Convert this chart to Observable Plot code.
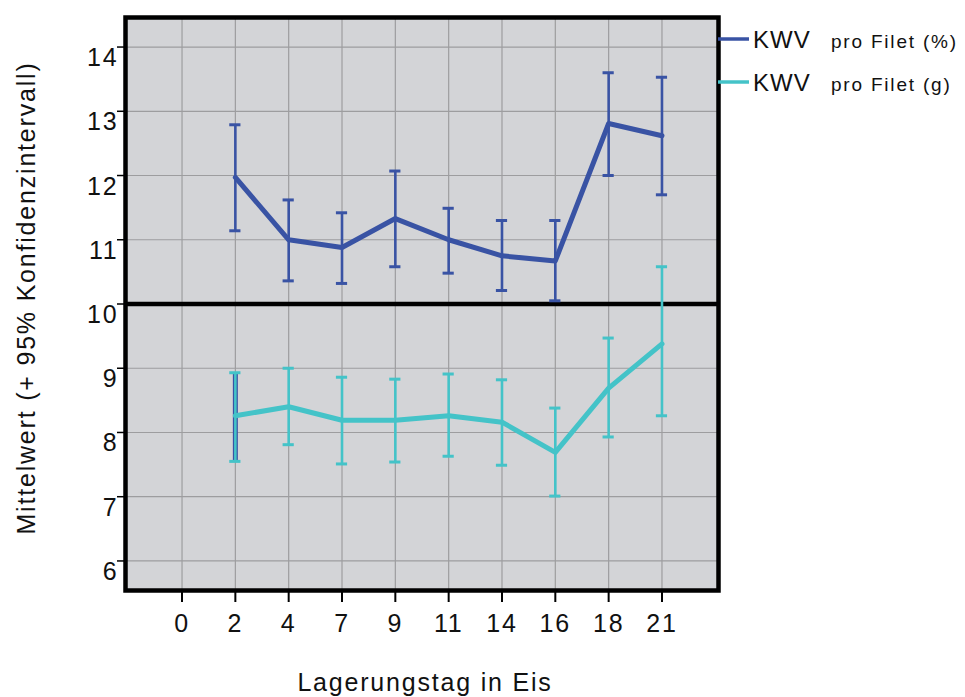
<!DOCTYPE html>
<html><head><meta charset="utf-8">
<script src="https://cdn.jsdelivr.net/npm/d3@7"></script>
<script src="https://cdn.jsdelivr.net/npm/@observablehq/plot@0.6"></script>
<style>
body{margin:0;background:#fff}
svg{display:block}
svg text{letter-spacing:1.8px}
</style>
</head><body><div id="chart"></div>
<script>
const days = ["0","2","4","7","9","11","14","16","18","21"];
const seriesNames = ["pro Filet (%)","pro Filet (g)"];
const legendPrefix = "KWV";
const measuredDays = ["2","4","7","9","11","14","16","18","21"];
const pctMean = [11.97,11.00,10.88,11.33,11.00,10.75,10.67,12.81,12.62];
const pctLow  = [11.14,10.36,10.32,10.58,10.48,10.21,10.05,12.00,11.70];
const pctHigh = [12.79,11.62,11.42,12.07,11.49,11.30,11.30,13.60,13.53];
const gMean = [8.26,8.40,8.19,8.19,8.26,8.16,7.69,8.69,9.38];
const gLow  = [7.55,7.81,7.51,7.54,7.63,7.49,7.01,7.93,8.26];
const gHigh = [8.93,9.00,8.86,8.83,8.91,8.82,8.38,9.47,10.58];
const yTicks = [6,7,8,9,10,11,12,13,14];
const colors = ["#3953a4","#44c3c8"];
const yTitle = "Mittelwert (+ 95% Konfidenzintervall)";
const xTitle = "Lagerungstag in Eis";

const mk = (mean, low, high) => measuredDays.map((d, k) => ({i: days.indexOf(d), mean: mean[k], low: low[k], high: high[k]}));
const pct = mk(pctMean, pctLow, pctHigh);
const gr = mk(gMean, gLow, gHigh);
const cap = 0.105;
const font = '"Liberation Sans", Arial, Helvetica, sans-serif';

function seriesMarks(rows, color) {
  return [
    Plot.ruleX(rows, {x: "i", y1: "low", y2: "high", stroke: color, strokeWidth: 2.6}),
    Plot.ruleY(rows, {y: "low", x1: d => d.i - cap, x2: d => d.i + cap, stroke: color, strokeWidth: 3}),
    Plot.ruleY(rows, {y: "high", x1: d => d.i - cap, x2: d => d.i + cap, stroke: color, strokeWidth: 3}),
    Plot.line(rows, {x: "i", y: "mean", stroke: color, strokeWidth: 5})
  ];
}

const chart = Plot.plot({
  width: 965, height: 697,
  marginLeft: 125, marginRight: 247, marginTop: 17, marginBottom: 107,
  style: {fontFamily: font, background: "white", overflow: "visible"},
  x: {type: "linear", domain: [-1.06, days.length - 1 + 1.06], axis: null},
  y: {domain: [5.54, 14.46], axis: null},
  marks: [
    Plot.frame({fill: "#d3d4d7"}),
    Plot.gridX(d3.range(days.length), {stroke: "#9d9d9f", strokeOpacity: 1, strokeWidth: 1.2}),
    Plot.gridY(yTicks, {stroke: "#9d9d9f", strokeOpacity: 1, strokeWidth: 1.2}),
    Plot.ruleY([10], {stroke: "black", strokeWidth: 4.5}),
    ...seriesMarks(pct, colors[0]),
    Plot.ruleX(gr.slice(0, 1), {x: "i", y1: "low", y2: "high", stroke: colors[0], strokeWidth: 5}),
    ...seriesMarks(gr, colors[1]),
    Plot.frame({stroke: "black", strokeWidth: 4.5}),
    Plot.axisX(d3.range(days.length), {label: null, tickFormat: i => days[i], tickSize: 12, tickPadding: 12, fontSize: 25, stroke: "black", strokeWidth: 2, fill: "#111"}),
    Plot.axisY(yTicks, {label: null, tickFormat: () => "", tickSize: 8, stroke: "black", strokeWidth: 1.5}),
    Plot.axisY(yTicks, {label: null, tickFormat: d => String(d), tickSize: 0, tickPadding: 7, fontSize: 25, dy: 11, fill: "#111"})
  ]
});
document.getElementById("chart").appendChild(chart);

const svg = d3.select(chart);
const legendY = [39, 82];
seriesNames.forEach((name, k) => {
  const y = legendY[k];
  svg.append("line").attr("x1", 718).attr("x2", 749).attr("y1", y).attr("y2", y)
    .attr("stroke", colors[k]).attr("stroke-width", 3.5);
  svg.append("text").attr("x", 753).attr("y", y + 9).attr("font-size", 24).attr("text-anchor", "start")
    .attr("font-family", font).attr("fill", "#111").style("letter-spacing", "1px").text(legendPrefix);
  svg.append("text").attr("x", 831).attr("y", y + 9).attr("font-size", 19).attr("text-anchor", "start")
    .attr("font-family", font).attr("fill", "#111").text(name);
});
svg.append("text").attr("transform", "translate(35,298) rotate(-90)")
  .attr("text-anchor", "middle").attr("font-size", 25).attr("font-family", font).attr("fill", "#111").text(yTitle);
svg.append("text").attr("x", 425).attr("y", 691)
  .attr("text-anchor", "middle").attr("font-size", 25).attr("font-family", font).attr("fill", "#111").text(xTitle);
</script>
</body></html>
